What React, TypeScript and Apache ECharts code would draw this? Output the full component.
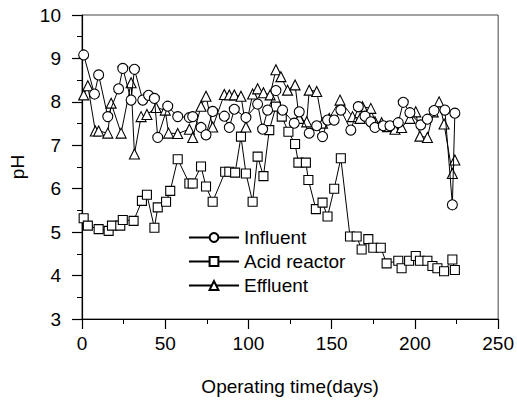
import React, { useEffect, useRef } from "react";
import * as echarts from "echarts";

const influentDays = [1, 7.5, 10, 15.5, 22, 24.5, 29.5, 31.5, 36.5, 40, 43.5, 45.5, 51.5, 57.5, 64.5, 66.5, 71.5, 74.5, 78.5, 85.5, 88.5, 91.5, 98.5, 105.5, 108.5, 111.5, 116.5, 120.5, 127.5, 130.5, 136.5, 141, 144.5, 147.5, 151.5, 155.5, 161.5, 166, 170, 173.5, 176, 181, 185, 190, 193, 197, 203.5, 207.5, 211.5, 218, 222.5, 224];
const influentPH = [9.08, 8.18, 8.62, 7.66, 8.3, 8.77, 8.04, 8.75, 8.04, 8.15, 8.08, 7.18, 7.9, 7.66, 7.64, 7.66, 7.41, 7.24, 7.78, 7.67, 7.41, 7.83, 7.64, 7.95, 7.37, 7.81, 8.26, 7.81, 7.51, 7.77, 7.28, 7.45, 7.2, 7.58, 7.58, 7.81, 7.35, 7.89, 7.67, 7.54, 7.41, 7.45, 7.45, 7.52, 7.99, 7.75, 7.47, 7.6, 7.8, 7.81, 5.63, 7.74];

const acidDays = [1, 3.5, 10, 16, 18, 23, 24.5, 31, 36, 39, 43.5, 45.5, 50.5, 53, 57.5, 64.5, 66.5, 71.5, 74.5, 78.5, 86, 88.5, 92, 95.5, 98.5, 102.5, 105.5, 109, 112.5, 116.5, 120, 124, 128, 130, 134.5, 136, 140.5, 144.5, 147.5, 151.5, 155.5, 161, 165, 168, 172, 175, 179.5, 183, 190, 192, 196.5, 200.5, 203, 207.5, 210.5, 213.5, 217.5, 222.5, 224];
const acidPH = [5.32, 5.15, 5.07, 5.03, 5.15, 5.15, 5.28, 5.26, 5.72, 5.86, 5.1, 5.57, 5.7, 5.95, 6.68, 6.12, 6.12, 6.51, 6.05, 5.7, 6.39, 6.39, 6.37, 7.2, 6.35, 5.7, 6.74, 6.29, 7.35, 7.89, 7.66, 7.31, 7.03, 6.6, 6.6, 6.2, 5.53, 5.68, 5.36, 6.0, 6.7, 4.9, 4.9, 4.6, 4.84, 4.64, 4.64, 4.28, 4.34, 4.17, 4.34, 4.45, 4.34, 4.34, 4.22, 4.17, 4.1, 4.37, 4.13];

const effluentDays = [1, 3.5, 8, 10, 15.5, 17.5, 23.5, 29.5, 31.5, 35.5, 39, 44.5, 50, 52, 57.5, 64.5, 66.5, 71.5, 74.5, 78.5, 85.5, 88.5, 91.5, 95.5, 98.5, 102.5, 105.5, 109, 113, 116.5, 119.5, 123.5, 128, 130.5, 135, 136.5, 141, 144.5, 148.5, 155, 162.5, 167, 168.5, 173.5, 176, 180, 183.5, 188, 192, 197, 200.5, 203, 207.5, 211, 214.5, 217.5, 222.5, 224];
const effluentPH = [8.16, 8.37, 7.33, 7.33, 7.28, 7.97, 7.28, 8.44, 6.8, 7.66, 7.71, 7.87, 7.81, 7.28, 7.27, 7.37, 7.18, 7.9, 8.13, 7.42, 8.17, 8.16, 8.16, 8.13, 7.42, 8.18, 8.3, 8.21, 8.16, 8.74, 8.58, 8.27, 8.39, 7.62, 7.54, 8.27, 8.24, 7.51, 7.62, 8.04, 7.66, 7.62, 7.89, 7.85, 7.54, 7.52, 7.43, 7.37, 7.41, 7.62, 7.77, 7.21, 7.18, 7.77, 8.0, 7.49, 6.35, 6.66];

const seriesNames = ["Influent", "Acid reactor", "Effluent"];
const xTicks = { min: 0, max: 250, interval: 50 };
const yTicks = { min: 3, max: 10, interval: 1 };

const FONT = "Liberation Sans, Arial, Helvetica, sans-serif";
const FS = 19;

function pairs(xs: number[], ys: number[]) {
  return xs.map((x, i) => [x, ys[i]]);
}

export default function App() {
  const ref = useRef<HTMLDivElement>(null);
  useEffect(() => {
    if (!ref.current) return;
    const chart = echarts.init(ref.current, undefined, { renderer: "svg" });
    const mk = (name: string, data: number[][], symbol: string, size: number, z: number) => ({
      name,
      type: "line",
      data,
      symbol,
      symbolSize: size,
      showAllSymbol: true,
      z,
      lineStyle: { color: "#000", width: 1 },
      itemStyle: { color: "#fff", borderColor: "#000", borderWidth: 1.1 },
      emphasis: { disabled: true },
    });
    chart.setOption({
      animation: false,
      backgroundColor: "#fff",
      textStyle: { fontFamily: FONT, color: "#000" },
      grid: {
        left: 82,
        right: 17,
        top: 15,
        bottom: 85,
        show: true,
        borderColor: "#444",
        borderWidth: 1,
        backgroundColor: "transparent",
      },
      legend: {
        data: seriesNames,
        orient: "vertical",
        left: 183,
        top: 223,
        itemWidth: 50,
        itemHeight: 11,
        itemGap: 5,
        textStyle: { fontFamily: FONT, fontSize: FS, color: "#000", lineHeight: 19 },
      },
      xAxis: {
        type: "value",
        min: xTicks.min,
        max: xTicks.max,
        interval: xTicks.interval,
        name: "Operating time(days)",
        nameLocation: "middle",
        nameGap: 58,
        nameTextStyle: { fontFamily: FONT, fontSize: FS, color: "#000" },
        axisLine: { show: true, lineStyle: { color: "#000", width: 1.2 } },
        axisTick: { show: true, length: 10, lineStyle: { color: "#000", width: 1.2 } },
        minorTick: { show: true, splitNumber: 2, length: 5, lineStyle: { color: "#000", width: 1 } },
        axisLabel: { margin: 15, fontFamily: FONT, fontSize: FS, color: "#000" },
        splitLine: { show: false },
      },
      yAxis: {
        type: "value",
        min: yTicks.min,
        max: yTicks.max,
        interval: yTicks.interval,
        name: "pH",
        nameLocation: "middle",
        nameGap: 55,
        nameTextStyle: { fontFamily: FONT, fontSize: FS, color: "#000" },
        axisLine: { show: true, lineStyle: { color: "#000", width: 1.2 } },
        axisTick: { show: true, length: 10, lineStyle: { color: "#000", width: 1.2 } },
        minorTick: { show: true, splitNumber: 2, length: 5, lineStyle: { color: "#000", width: 1 } },
        axisLabel: { margin: 21, fontFamily: FONT, fontSize: FS, color: "#000" },
        splitLine: { show: false },
      },
      series: [
        mk("Acid reactor", pairs(acidDays, acidPH), "rect", 9, 2),
        mk("Effluent", pairs(effluentDays, effluentPH), "triangle", 10, 3),
        mk("Influent", pairs(influentDays, influentPH), "circle", 10, 4),
      ],
    });
    return () => chart.dispose();
  }, []);
  return (
    <div
      ref={ref}
      style={{ position: "fixed", left: 0, top: 0, width: 517, height: 404, background: "#fff" }}
    />
  );
}
